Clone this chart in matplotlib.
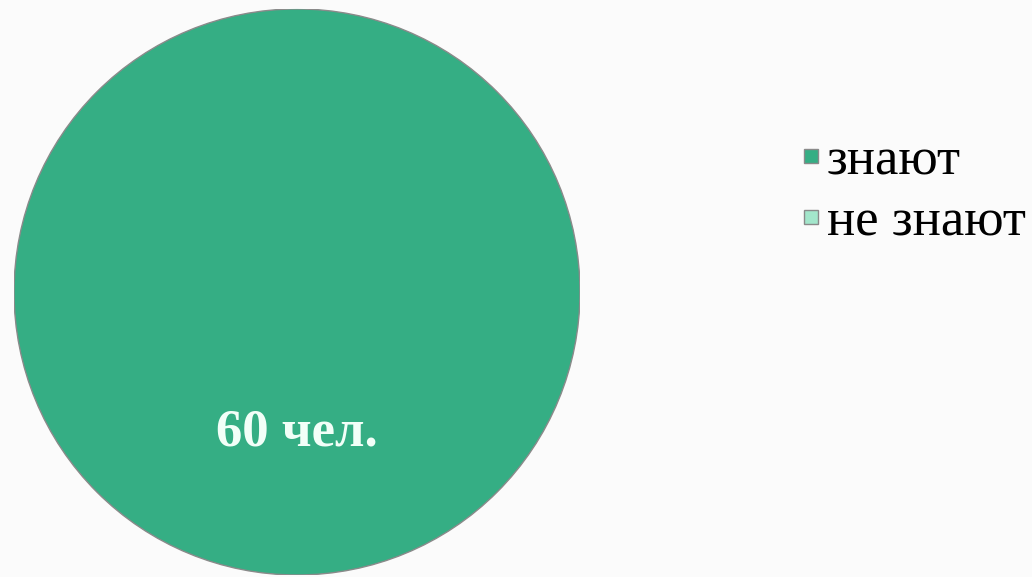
import matplotlib.pyplot as plt
from matplotlib.patches import Circle
from matplotlib.lines import Line2D

labels = ['знают', 'не знают']
values = [60, 0]
value_text = '60 чел.'
colors = ['#35ae84', '#a3e6cb']

fig = plt.figure(figsize=(10.32, 5.77), dpi=100)
fig.patch.set_facecolor('#fbfbfb')

ax = fig.add_axes([0.0136, 0.0035, 0.5484, 0.981])
wedges, _ = ax.pie(values, colors=colors, startangle=90, counterclock=False,
                   wedgeprops=dict(edgecolor='none', linewidth=0))
# outline of the whole pie, without the radial seam of the empty slice
ax.add_patch(Circle((0, 0), 1.0, fill=False, edgecolor='#8a8a8a', linewidth=1.0))
ax.set_xlim(-1.0, 1.0)
ax.set_ylim(-1.0, 1.0)
ax.set_aspect('auto')

ax.text(0, -0.495, value_text, ha='center', va='center', color='#f2fff8',
        fontsize=38, fontweight='bold', family='Liberation Serif')

handles = [Line2D([], [], linestyle='none', marker='s', markersize=10,
                  markerfacecolor=c, markeredgecolor='#8a8a8a', markeredgewidth=1.0)
           for c in colors]
fig.legend(handles, labels, loc='upper left', bbox_to_anchor=(0.778, 0.762),
           frameon=False, prop=dict(family='Liberation Serif', size=38),
           handlelength=0.3, handletextpad=0.15,
           labelspacing=0.25, borderpad=0, borderaxespad=0)

plt.savefig('out.png', dpi=100, facecolor=fig.get_facecolor())
plt.close()
